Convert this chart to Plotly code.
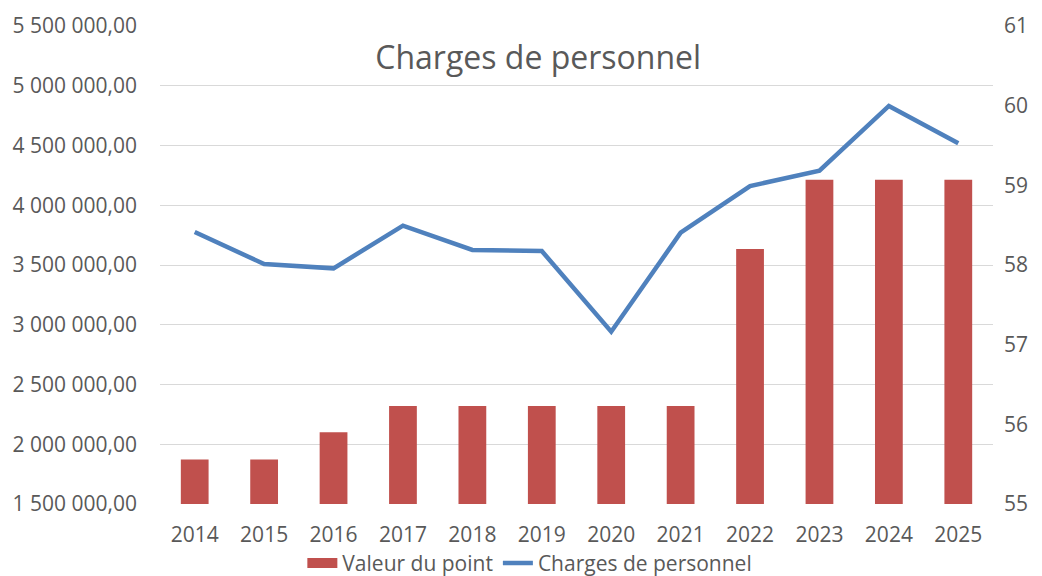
import plotly.graph_objects as go

years = ["2014", "2015", "2016", "2017", "2018", "2019", "2020", "2021", "2022", "2023", "2024", "2025"]
valeur_du_point = [55.56, 55.56, 55.90, 56.23, 56.23, 56.23, 56.23, 56.23, 58.20, 59.07, 59.07, 59.07]
charges_personnel = [3776000, 3508000, 3472000, 3829000, 3626000, 3617000, 2942000, 3770000,
                     4161000, 4289000, 4831000, 4518000]

TXT = "#595959"
BAR = "#C0504D"
LINE = "#4F81BD"
FONT = "Open Sans"
FS = 21

fig = go.Figure()
fig.add_trace(go.Bar(
    x=years, y=valeur_du_point, name="Valeur du point",
    marker=dict(color=BAR, line=dict(width=0)),
    yaxis="y", showlegend=False, legendgroup="vp",
))
# legend-only entry giving the wide rectangular swatch of the bar series
fig.add_trace(go.Scatter(
    x=[None], y=[None], name="Valeur du point", mode="lines",
    line=dict(color=BAR, width=14), yaxis="y", legendgroup="vp",
))
fig.add_trace(go.Scatter(
    x=years, y=charges_personnel, name="Charges de personnel",
    mode="lines", line=dict(color=LINE, width=4.5),
    yaxis="y2",
))

fig.update_layout(
    width=1042, height=576,
    margin=dict(l=152, r=57, t=18, b=80, autoexpand=False),
    paper_bgcolor="white", plot_bgcolor="white",
    separators=", ",
    font=dict(family=FONT, size=FS, color=TXT),
    bargap=0.6,
    showlegend=True,
    title=dict(text="Charges de personnel", x=0.454, xref="paper", xanchor="center",
               y=0.933, yref="paper", yanchor="middle",
               font=dict(family=FONT, size=32, color=TXT)),
    legend=dict(orientation="h", x=0.444, xanchor="center", y=-0.124, yanchor="middle",
                font=dict(family=FONT, size=FS, color=TXT), traceorder="normal",
                itemwidth=30, bgcolor="rgba(0,0,0,0)"),
    xaxis=dict(showgrid=False, showline=False, ticks="", zeroline=False, automargin=False,
               ticklabelstandoff=16,
               tickfont=dict(size=FS, color=TXT)),
    yaxis=dict(side="right", range=[55, 61], tickvals=[55, 56, 57, 58, 59, 60, 61],
               ticktext=["55", "56", "57", "58", "59", "60", "61"],
               showgrid=False, zeroline=False, automargin=False,
               showline=False, ticks="", ticklabelstandoff=10,
               tickfont=dict(size=FS, color=TXT)),
    yaxis2=dict(side="left", overlaying="y", range=[1500000, 5500000], dtick=500000,
                tick0=1500000, tickformat=",.2f", automargin=False,
                showgrid=True, gridcolor="#D9D9D9", gridwidth=1.3,
                zeroline=False, showline=False, ticks="",
                ticklabelstandoff=22,
                tickfont=dict(size=FS, color=TXT)),
)

fig.write_html("out.html")
